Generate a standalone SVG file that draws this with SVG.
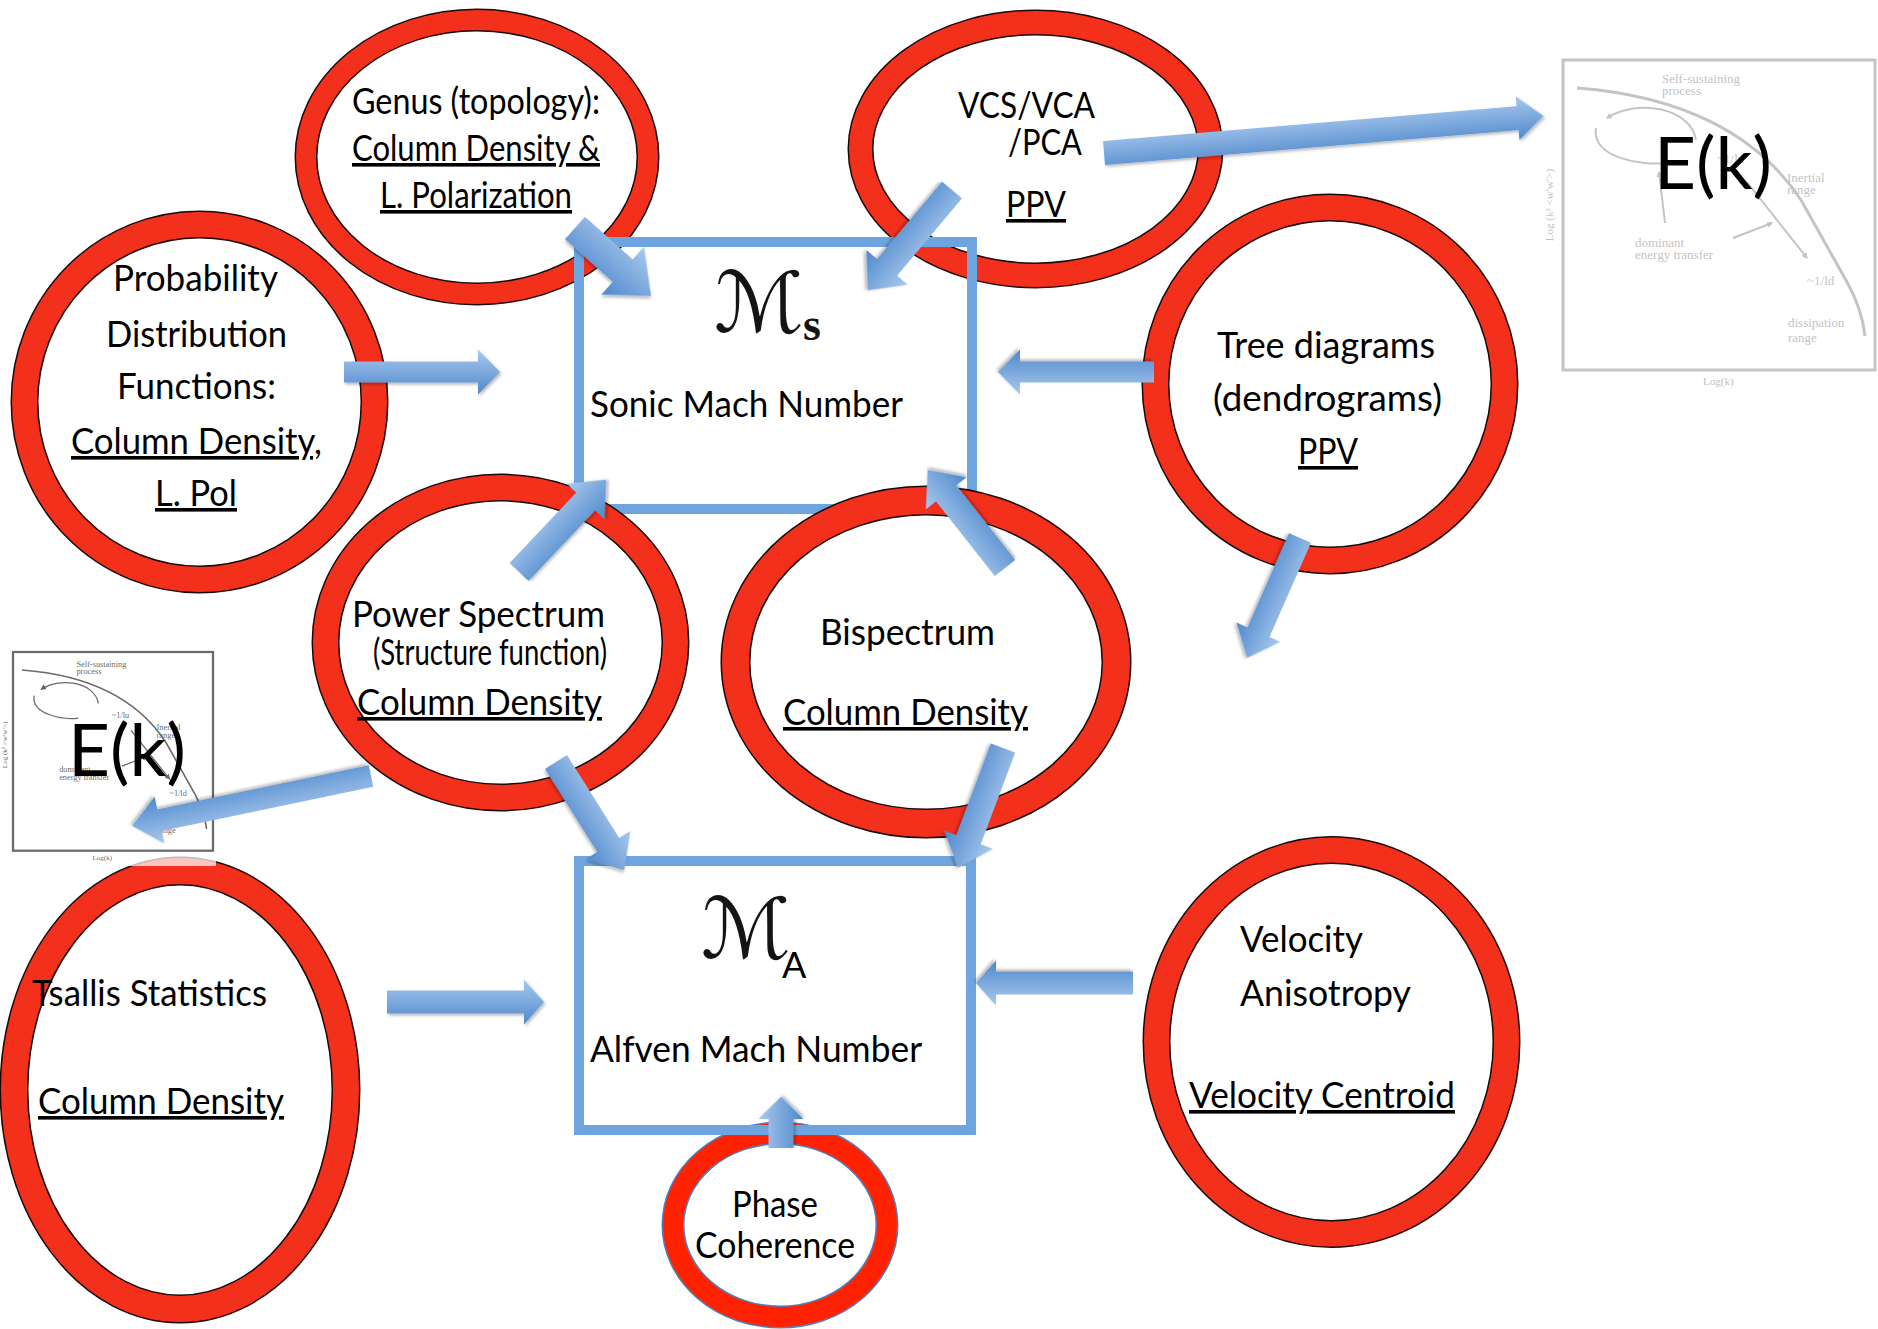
<svg xmlns="http://www.w3.org/2000/svg" width="1878" height="1329" viewBox="0 0 1878 1329">
<defs>
<linearGradient id="ag" x1="0" y1="0" x2="0" y2="1">
<stop offset="0" stop-color="#a9c9ee"/>
<stop offset="1" stop-color="#4f88cc"/>
</linearGradient>
<filter id="sh" x="-20%" y="-20%" width="140%" height="140%">
<feDropShadow dx="1.5" dy="2" stdDeviation="1.5" flood-color="#000" flood-opacity="0.28"/>
</filter>
<marker id="mL" viewBox="0 0 10 10" refX="8" refY="5" markerWidth="6" markerHeight="6" orient="auto" markerUnits="userSpaceOnUse">
<path d="M0,0 L10,5 L0,10 Z" fill="#c4c4c4"/>
</marker>
<marker id="mD" viewBox="0 0 10 10" refX="8" refY="5" markerWidth="9" markerHeight="9" orient="auto" markerUnits="userSpaceOnUse">
<path d="M0,0 L10,5 L0,10 Z" fill="#666"/>
</marker>
</defs>
<style>
.bg{fill:#fff}
.ro{fill:#fff;stroke:#1a0a08}
.ri{fill:none;stroke:#f2301c}
.box{fill:none;stroke:#6ea5df;stroke-width:10}
.t{font-family:Lato,"Open Sans","Liberation Sans",sans-serif;fill:#000;font-size:36px}
.u{text-decoration:underline}
.arr{fill:url(#ag);filter:url(#sh)}
.pt{font-family:"Liberation Serif",serif;font-size:13px}
.light{color:#c4c4c4}
.dark{color:#6a6a6a}
.big{font-family:Lato,"Open Sans","Liberation Sans",sans-serif;font-size:72px;fill:#000}
.sym{font-family:"DejaVu Serif","DejaVu Sans",serif;fill:#141414}
</style>
<rect class="bg" x="0" y="0" width="1878" height="1329"/>

<!-- upper ellipses (below Ms box) -->
<g id="node-genus">
<ellipse class="ro" cx="477" cy="157" rx="171" ry="137" stroke-width="23"/>
<ellipse class="ri" cx="477" cy="157" rx="171" ry="137" stroke-width="20"/>
<text class="t" x="352" y="114" font-size="33" textLength="248" lengthAdjust="spacingAndGlyphs">Genus (topology):</text>
<text class="t u" x="352" y="161" font-size="33" textLength="248" lengthAdjust="spacingAndGlyphs">Column Density &amp;</text>
<text class="t u" x="380" y="208" font-size="33" textLength="192" lengthAdjust="spacingAndGlyphs">L. Polarization</text>
</g>
<g id="node-vcs">
<ellipse class="ro" cx="1035.5" cy="149" rx="175" ry="126.5" stroke-width="26"/>
<ellipse class="ri" cx="1035.5" cy="149" rx="175" ry="126.5" stroke-width="23"/>
<text class="t" x="958" y="118" textLength="137" lengthAdjust="spacingAndGlyphs">VCS/VCA</text>
<text class="t" x="1008" y="155" textLength="74" lengthAdjust="spacingAndGlyphs">/PCA</text>
<text class="t u" x="1006" y="217" textLength="60" lengthAdjust="spacingAndGlyphs">PPV</text>
</g>
<g id="node-pdf">
<ellipse class="ro" cx="199.5" cy="402" rx="175" ry="177.5" stroke-width="28"/>
<ellipse class="ri" cx="199.5" cy="402" rx="175" ry="177.5" stroke-width="25"/>
<text class="t" x="113" y="291" textLength="165" lengthAdjust="spacingAndGlyphs">Probability</text>
<text class="t" x="106" y="347" textLength="181" lengthAdjust="spacingAndGlyphs">Distribution</text>
<text class="t" x="117" y="399" textLength="159" lengthAdjust="spacingAndGlyphs">Functions:</text>
<text class="t u" x="71" y="454" textLength="251" lengthAdjust="spacingAndGlyphs">Column Density,</text>
<text class="t u" x="155" y="506" textLength="82" lengthAdjust="spacingAndGlyphs">L. Pol</text>
</g>
<g id="node-tree">
<ellipse class="ro" cx="1330" cy="384" rx="174.5" ry="176.5" stroke-width="28"/>
<ellipse class="ri" cx="1330" cy="384" rx="174.5" ry="176.5" stroke-width="25"/>
<text class="t" x="1217" y="358" textLength="218" lengthAdjust="spacingAndGlyphs">Tree diagrams</text>
<text class="t" x="1213" y="411" textLength="229" lengthAdjust="spacingAndGlyphs">(dendrograms)</text>
<text class="t u" x="1298" y="464" textLength="60" lengthAdjust="spacingAndGlyphs">PPV</text>
</g>

<!-- Sonic Mach box -->
<g id="node-ms">
<rect class="box" x="579" y="242" width="393" height="267"/>
<text class="sym" x="714" y="332" font-size="84">ℳ</text>
<text x="803" y="340" font-family="'Liberation Serif',serif" font-weight="bold" font-size="46" fill="#141414">s</text>
<text class="t" x="590" y="417" textLength="313" lengthAdjust="spacingAndGlyphs">Sonic Mach Number</text>
</g>

<g id="node-ps">
<ellipse class="ro" cx="500.5" cy="642.5" rx="175" ry="155" stroke-width="28"/>
<ellipse class="ri" cx="500.5" cy="642.5" rx="175" ry="155" stroke-width="25"/>
<text class="t" x="352" y="627" textLength="253" lengthAdjust="spacingAndGlyphs">Power Spectrum</text>
<text class="t" x="373" y="665" font-size="26" textLength="234" lengthAdjust="spacingAndGlyphs">(Structure function)</text>
<text class="t u" x="357" y="715" textLength="245" lengthAdjust="spacingAndGlyphs">Column Density</text>
</g>
<g id="node-bisp">
<ellipse class="ro" cx="926" cy="662" rx="190.5" ry="161.5" stroke-width="30"/>
<ellipse class="ri" cx="926" cy="662" rx="190.5" ry="161.5" stroke-width="27"/>
<text class="t" x="820" y="645" textLength="175" lengthAdjust="spacingAndGlyphs">Bispectrum</text>
<text class="t u" x="783" y="725" textLength="245" lengthAdjust="spacingAndGlyphs">Column Density</text>
</g>

<g id="node-tsallis">
<ellipse class="ro" cx="180" cy="1090" rx="166" ry="219" stroke-width="29"/>
<ellipse class="ri" cx="180" cy="1090" rx="166" ry="219" stroke-width="26"/>
<text class="t" x="32" y="1006" textLength="235" lengthAdjust="spacingAndGlyphs">Tsallis Statistics</text>
<text class="t u" x="38" y="1114" textLength="246" lengthAdjust="spacingAndGlyphs">Column Density</text>
</g>
<g id="node-velocity">
<ellipse class="ro" cx="1331.5" cy="1042" rx="175" ry="192" stroke-width="28"/>
<ellipse class="ri" cx="1331.5" cy="1042" rx="175" ry="192" stroke-width="25"/>
<text class="t" x="1240" y="952" textLength="123" lengthAdjust="spacingAndGlyphs">Velocity</text>
<text class="t" x="1240" y="1006" textLength="171" lengthAdjust="spacingAndGlyphs">Anisotropy</text>
<text class="t u" x="1189" y="1108" textLength="266" lengthAdjust="spacingAndGlyphs">Velocity Centroid</text>
</g>
<g id="node-phase">
<ellipse cx="780" cy="1225" rx="107" ry="92" fill="#fff" stroke="#4f81bd" stroke-width="23"/>
<ellipse cx="780" cy="1225" rx="107" ry="92" fill="none" stroke="#ff2200" stroke-width="20"/>
<text class="t" x="732" y="1217" font-size="34" textLength="86" lengthAdjust="spacingAndGlyphs">Phase</text>
<text class="t" x="695" y="1258" font-size="34" textLength="160" lengthAdjust="spacingAndGlyphs">Coherence</text>
</g>

<!-- Alfven Mach box -->
<g id="node-ma">
<rect class="box" x="579" y="861" width="392" height="269"/>
<text class="sym" x="701" y="958" font-size="84">ℳ</text>
<text class="t" x="782" y="978" font-size="29">A</text>
<text class="t" x="590" y="1062" textLength="332" lengthAdjust="spacingAndGlyphs">Alfven Mach Number</text>
</g>

<!-- E(k) plot, top right -->
<g id="plot-right" class="light">
<g transform="translate(1563,60)">
<rect x="0" y="0" width="312" height="310" fill="#fff" stroke="currentColor" stroke-width="3"/>
<g fill="none" stroke="currentColor" stroke-width="3">
<path d="M14,28 C120,36 195,75 238,140 L284,222 C294,240 300,258 302,276"/>
<path d="M133,80 C128,48 75,38 44,58" stroke-width="2" marker-end="url(#mL)"/>
<path d="M33,68 C28,98 80,106 102,103" stroke-width="2"/>
<path d="M102,163 L96,112" stroke-width="2" marker-end="url(#mL)"/>
<path d="M170,178 L209,163" stroke-width="2" marker-end="url(#mL)"/>
<path d="M184,122 L244,198" stroke-width="2" marker-end="url(#mL)"/>
</g>
<g class="pt" fill="currentColor">
<text x="99" y="23">Self-sustaining</text>
<text x="99" y="35">process</text>
<text x="154" y="103">~1/lu</text>
<text x="224" y="122">Inertial</text>
<text x="224" y="134">range</text>
<text x="72" y="187">dominant</text>
<text x="72" y="199">energy transfer</text>
<text x="244" y="225">~1/ld</text>
<text x="225" y="267">dissipation</text>
<text x="225" y="282">range</text>
<text x="140" y="325" font-size="11">Log(k)</text>
<text transform="translate(-10,145) rotate(-90)" text-anchor="middle" font-size="11">Log (k² &lt;w′w′&gt;)</text>
</g>
</g>
<text class="big" x="1654" y="189" textLength="118" lengthAdjust="spacingAndGlyphs">E(k)</text>
</g>

<!-- E(k) plot, left -->
<g id="plot-left" class="dark">
<g transform="translate(13,652) scale(0.641)">
<rect x="0" y="0" width="312" height="310" fill="#fff" stroke="currentColor" stroke-width="3.5"/>
<g fill="none" stroke="currentColor" stroke-width="2.5">
<path d="M14,28 C120,36 195,75 238,140 L284,222 C294,240 300,258 302,276"/>
<path d="M133,80 C128,48 75,38 44,58" stroke-width="2" marker-end="url(#mD)"/>
<path d="M33,68 C28,98 80,106 102,103" stroke-width="2"/>
<path d="M184,122 L244,198" stroke-width="2" marker-end="url(#mD)"/>
<path d="M170,178 L209,163" stroke-width="2" marker-end="url(#mD)"/>
</g>
<g class="pt" fill="currentColor">
<text x="99" y="23">Self-sustaining</text>
<text x="99" y="35">process</text>
<text x="154" y="103">~1/lu</text>
<text x="224" y="122">Inertial</text>
<text x="224" y="134">range</text>
<text x="72" y="187">dominant</text>
<text x="72" y="199">energy transfer</text>
<text x="244" y="225">~1/ld</text>
<text x="225" y="267">dissipation</text>
<text x="225" y="282">range</text>
<text x="124" y="324" font-size="11">Log(k)</text>
<text transform="translate(-10,145) rotate(-90)" text-anchor="middle" font-size="11">Log (k² &lt;w′w′&gt;)</text>
</g>
</g>
<text class="big" x="68" y="776" textLength="118" lengthAdjust="spacingAndGlyphs">E(k)</text>
<rect x="118" y="852" width="98" height="14" fill="#fff" opacity="0.72"/>
</g>

<!-- connectors -->
<g id="connectors">
<path class="arr" transform="translate(575 228) rotate(41.8)" d="M0,-15 H64 V-32 L102,0 L64,32 V15 H0 Z"/>
<path class="arr" transform="translate(952 190) rotate(130)" d="M0,-13 H101 V-27 L131,0 L101,27 V13 H0 Z"/>
<path class="arr" transform="translate(344 372)" d="M0,-10.5 H134 V-22.5 L156,0 L134,22.5 V10.5 H0 Z"/>
<path class="arr" transform="translate(1154 372) rotate(180)" d="M0,-10.5 H134 V-22.5 L156,0 L134,22.5 V10.5 H0 Z"/>
<path class="arr" transform="translate(519 572) rotate(-46.6)" d="M0,-13 H97 V-26 L127,0 L97,26 V13 H0 Z"/>
<path class="arr" transform="translate(1005 568) rotate(-128.2)" d="M0,-13 H95 V-26 L125,0 L95,26 V13 H0 Z"/>
<path class="arr" transform="translate(556 762) rotate(57.8)" d="M0,-13 H98 V-26 L128,0 L98,26 V13 H0 Z"/>
<path class="arr" transform="translate(1003 748) rotate(110.6)" d="M0,-13 H98 V-26 L128,0 L98,26 V13 H0 Z"/>
<path class="arr" transform="translate(371 776) rotate(168.2)" d="M0,-11 H216 V-24 L244,0 L216,24 V11 H0 Z"/>
<path class="arr" transform="translate(1104 153) rotate(-4.82)" d="M0,-12 H415 V-22 L441,0 L415,22 V12 H0 Z"/>
<path class="arr" transform="translate(1300 538) rotate(113.8)" d="M0,-12 H103 V-24 L131,0 L103,24 V12 H0 Z"/>
<path class="arr" transform="translate(387 1002)" d="M0,-11.5 H137 V-22.5 L157,0 L137,22.5 V11.5 H0 Z"/>
<path class="arr" transform="translate(1133 983) rotate(180)" d="M0,-11.5 H137 V-22.5 L157,0 L137,22.5 V11.5 H0 Z"/>
<path class="arr" transform="translate(781 1148) rotate(-90)" d="M0,-12.5 H29 V-22.5 L51,0 L29,22.5 V12.5 H0 Z"/>
</g>
</svg>
